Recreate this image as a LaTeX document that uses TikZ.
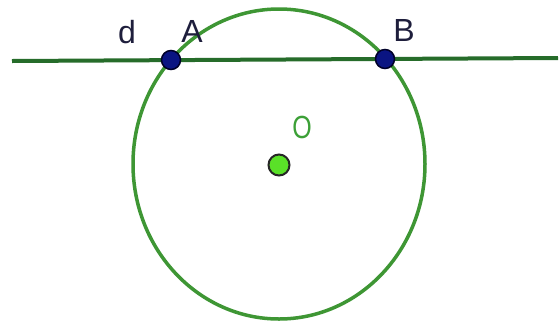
\documentclass[tikz,border=0pt]{standalone}
\usepackage{fontspec}
\setmainfont{Liberation Sans}
\usetikzlibrary{shapes.geometric}
\begin{document}
\begin{tikzpicture}[x=1pt,y=-1pt,
  lbl/.style={inner sep=0pt,font=\fontsize{32}{32}\selectfont},
  ptdot/.style={circle,draw=black!60!blue!40!black,fill=ptblue,line width=1.5pt,minimum size=19pt,inner sep=0pt},
  odot/.style={circle,draw=black!85,fill=ptgreen,line width=2pt,minimum size=21pt,inner sep=0pt}]
\definecolor{linegreen}{RGB}{38,108,42}
\definecolor{circgreen}{RGB}{62,150,52}
\definecolor{ptblue}{RGB}{10,20,130}
\definecolor{ptgreen}{RGB}{90,225,40}
\definecolor{labgreen}{RGB}{60,160,55}
\definecolor{labdark}{RGB}{30,30,60}
\useasboundingbox (0,0) rectangle (560,325);
\fill[white] (0,0) rectangle (560,325);
\coordinate (L) at (12,61);
\coordinate (R) at (558,58);
\node[draw=circgreen,line width=3.5pt,ellipse,minimum width=292pt,minimum height=310pt,inner sep=0pt] (circ) at (279,164) {};
\draw[linegreen,line width=4pt] (L) -- (R);
\node[ptdot] (A) at (171,60) {};
\node[ptdot] (B) at (385,59) {};
\node[odot] (O) at (279,165) {};
\node[lbl,text=labdark] (la) at (192,31) {A};
\node[lbl,text=labdark] (lb) at (404,30) {B};
\node[lbl,text=labdark] (ld) at (127,32) {d};
\node[lbl,text=labgreen,xscale=0.78] (lo) at (302,127) {O};
\end{tikzpicture}
\end{document}
